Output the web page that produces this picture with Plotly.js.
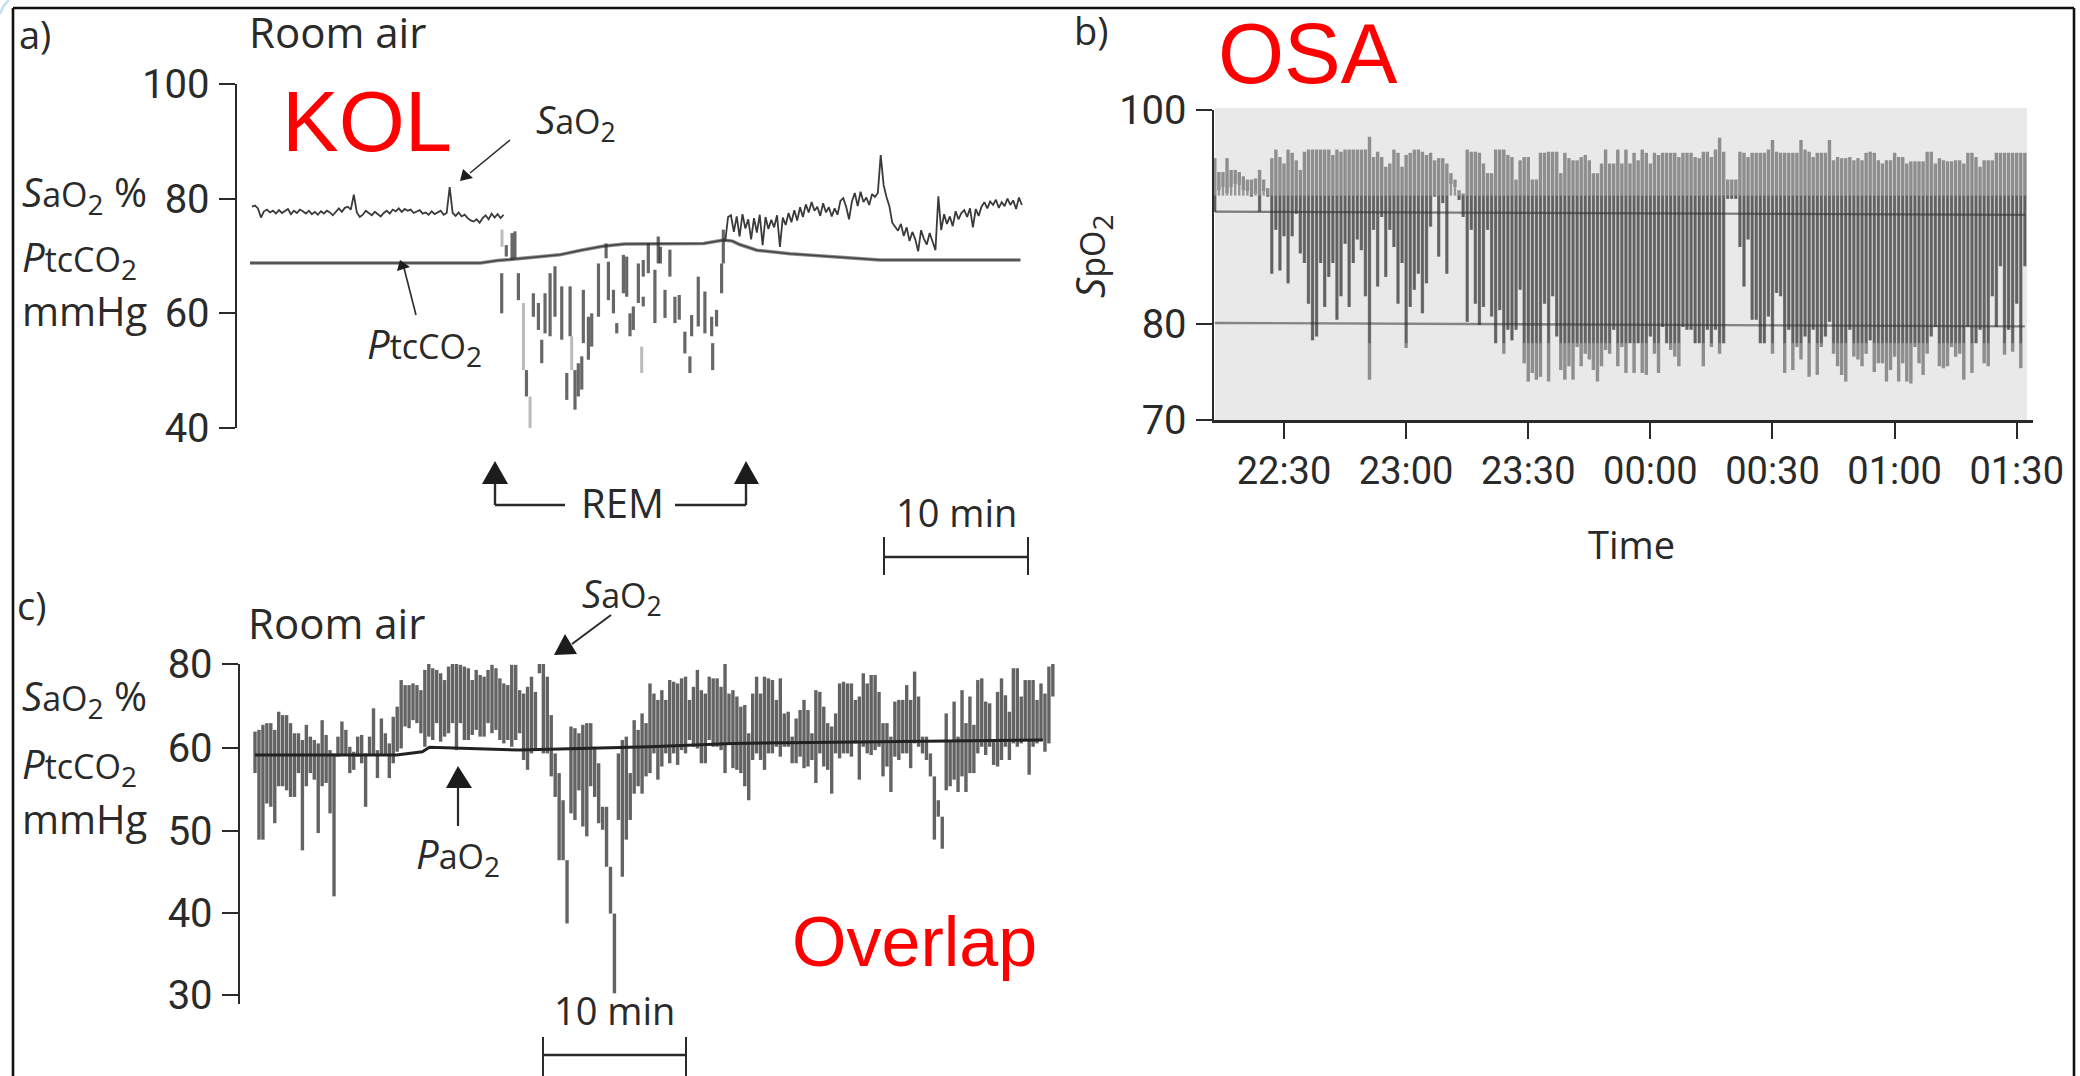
<!DOCTYPE html>
<html><head><meta charset="utf-8">
<script src="https://cdn.plot.ly/plotly-3.0.1.min.js"></script>
<style>html,body{margin:0;padding:0;background:#fff}#g{width:2080px;height:1076px}</style></head>
<body><div id="g"></div>
<script>
// ---- panel a (KOL) : minutes from start of trace, values in % / mmHg
const kolSaoBeforeStart = 0.14, kolSaoBeforeStep = 0.208;
const kolSaoBefore = [78.6,78.8,78.3,76.7,77.8,78.1,77.6,77.9,77.4,78.0,77.5,77.8,78.2,77.3,77.9,77.5,78.1,77.8,77.4,77.9,77.3,77.7,77.2,77.8,77.4,77.9,77.6,77.1,77.8,78.3,77.7,78.4,78.6,78.1,80.7,77.6,76.8,77.2,77.9,77.5,77.1,77.7,77.3,76.9,77.5,77.9,77.4,78.1,77.8,78.3,77.7,78.2,77.9,78.1,77.5,77.8,78.0,77.4,77.6,77.2,77.8,77.3,77.6,77.9,77.2,77.5,82.0,77.5,77.0,77.6,76.9,77.2,76.6,76.2,76.0,76.4,75.8,76.6,77.1,76.4,77.4,76.7,77.3,76.6,77.2];
const kolSaoAfterStart = 33, kolSaoAfterStep = 0.2;
const kolSaoAfter = [72.5,76.8,77.1,74.2,76.9,73.4,77.3,74.8,76.4,72.9,76.6,74.1,77.2,71.9,76.8,74.7,76.3,75.0,77.1,71.6,76.7,75.4,77.5,75.9,78,76.2,78.5,76.8,79,77.6,79.4,77.9,78.6,77,79.2,77.6,78.5,76.9,78.3,77.2,79.6,80.1,78.6,76.4,79.5,81,78.7,81.2,79.4,80.2,78.9,80.8,80.3,81,87.6,82.4,80.3,78.7,75.8,75.2,74.4,75.6,73.5,75,72.6,74.2,72.9,70.8,74.5,73,72,74,72.6,71,80.4,74.5,77.3,75.6,76.9,75.2,77.8,76.4,77.5,78,76.8,78.3,75,78.2,77,78.6,79.4,78.3,79.5,78.9,79.8,78.4,79.4,78.7,80,78.9,79.7,78.2,80.2,78.9];
const kolRemTime = [17.48,17.8,18.2,18.4,18.64,19.2,19.68,20.03,20.26,20.49,20.84,21.18,21.65,22.0,22.23,22.57,22.8,23.04,23.15,23.5,23.73,24.2,24.73,24.89,25.24,25.47,25.93,26.16,26.39,26.62,26.97,27.31,27.66,27.31,28.12,28.35,28.5,28.82,29.16,29.51,29.81,30.2,30.55,30.67,31.13,31.59,32.13,32.06,32.4,32.75,32.87];
const kolRemLow  = [60,69.9,69.3,69.6,62.3,45.5,59.4,57.1,51.3,56.5,56,59.4,55.4,44.9,56,43.2,45.5,46.7,54.8,51.9,54.2,59.4,69.6,62.3,60,56.5,63.5,62.9,56,57.1,61.8,66.4,67,61.2,58.3,68.7,68.7,59.2,66.4,58.3,58.9,53,49.6,56,57.7,56.5,50.1,56,57.7,63.5,68.7];
const kolRemHigh = [67,71.9,74,74.3,67,50.1,63.5,61.8,55.4,63.5,67,68.2,64.7,49.6,64.7,50.1,51.3,52.5,64.1,59.4,60,68.7,72.2,69,64.1,58.3,70.2,69.9,60,61.2,68.7,69.3,72.2,62.9,67.6,73.4,71.6,64.1,71.1,62.9,63.2,56.8,52.5,59.7,66.4,63.8,54.8,59.4,60.6,68.7,74.6];
const kolRemFaintTime = [17.5,18.99,19.45,22.34,27.2];
const kolRemFaintLow  = [71.6,50.1,38.2,50.1,49.6];
const kolRemFaintHigh = [74.6,61.8,45.5,56,54.2];
const kolPtcTime = [0,16,17.2,18,19.5,21.5,23,24.5,26,31.5,32.9,33.5,34,35.2,37.5,41,43.75,46,53.5];
const kolPtc     = [68.8,68.8,69.2,69.4,69.7,70.2,71,71.7,72.1,72.2,72.8,72.6,72,71,70.4,69.8,69.3,69.3,69.3];
const kolTicks = [40,60,80,100];

// ---- panel b (OSA) : minutes after 22:30, one dip per minute
const osaStart = -17;
const osaTop = [95.5,94.2,94.2,95.5,94.4,94.4,94.2,93.8,93.5,93.5,93.6,94.4,93.5,92.7,
95.5,96.3,95.6,95,96.3,96,95.3,94.4,96.1,96.3,96.3,96.3,96.3,96.3,96.3,95.8,96.3,96.1,96.3,96.3,96.3,96.3,96.3,96.3,97.5,95.6,96.1,95.6,94.7,95,96.3,96,94.7,95.8,96,96.3,96.3,96.1,95.8,96,95.3,95.5,95.5,95,94.1,93.5,92.5,92.2,96.3,96.1,96.1,96,
95,94.1,94.1,96.3,96.3,96.3,95.8,95.6,93.5,95.3,95.6,95.6,93.5,93.5,96,96,96.1,96.1,96.1,94.1,96,95.5,95.3,95.3,95.6,95.8,95.3,94.1,94.1,95,96.3,95,95,96.3,95,96.3,95,96,95.3,96.3,96,95,96,95.8,96,96,96,96,95.6,96,96,96,95.6,95.5,96.1,96.1,95.6,96.3,97.4,96.1,93.5,93.5,93.5,96.1,96,95.6,96,
96,96,96,96.3,97.2,96.1,96,96,96,96,96,97.2,96.3,96.1,95.6,96,96,96,97.2,95.3,95.6,95.5,95.5,95.6,95.3,95.5,95.3,96,96.1,96,95.3,95,95.3,95.3,96,95.6,95.6,95,95.2,95.2,95.2,95.2,96.1,96.1,95,95.5,95.3,95.2,95.2,95.3,95.3,95,96,96,95.6,94.7,95.3,95.3,95.3,96,96,96,96,96,96,96,96];
const osaLow = [90.5,92.5,92.8,92.2,92.8,93.1,93,92.5,92.4,91.9,92.2,90.5,92.4,91.9,
84.7,88.8,85,88.2,83.8,88.2,90.3,86.6,85.7,81.9,78.3,78.7,85.7,81.6,84.4,85.7,80.4,82.6,87.5,81.6,85.7,87.9,86.9,82.6,74.2,88.8,83.5,90,84.4,88.8,87.2,81.9,85.7,77.5,81.6,83.2,84.7,81,83.8,89.1,91.9,86.3,91.3,84.7,93.1,92.8,91.6,90,80.2,88.8,81.9,79.9,
81.6,88.8,80.7,78,81.3,76.9,79.4,78.3,79.4,83.2,75.9,74,74.9,74.2,74.5,81.9,74,82.6,78.7,75.2,74.2,75.6,74.2,77.6,75.6,76.9,76.3,75.2,74,75.6,77.3,76.9,79.4,75.6,77.6,74.9,78,74.9,78,74.9,74.7,78.7,76.9,74.9,79.7,78,77.3,76.6,75.6,79.7,79.4,79.4,78,78,75.6,79.4,77.6,79.4,76.9,78,91.7,91.7,91.7,87.2,83.5,87.9,80.4,
80.4,78,78,80.7,76.9,82.9,82.6,74.9,79.4,75.2,77.6,76.3,78.7,74.5,79.4,74.7,77.6,78.7,80.2,76.9,75.6,74.7,74,79.4,76.6,76.3,75.6,76.9,78.3,75,75.9,75.9,74,75.2,76.6,74,75.9,74,73.8,77.6,75.9,74.7,76.9,78.7,79.7,75.6,75.4,75.6,77.6,76.6,76.9,74.2,79.7,74.9,78,79.4,75.9,75.6,82.6,79.7,85.4,76.8,79.4,77.1,81.9,75.4,85.4];
const osaRefTime = [-17,182];
const osaRefUpper = [90.5,90.2];
const osaRefLower = [80.1,79.75];
const osaTicks = [70,80,100];
const osaTimeTicks = [0,30,60,90,120,150,180];
const osaTimeLabels = ['22:30','23:00','23:30','00:00','00:30','01:00','01:30'];

// ---- panel c (Overlap) : minutes from start of trace
const ovlSpan = 55.8;
const ovlHigh = [64,64.4,65.6,66,66,64.4,68.7,67.9,67.9,66,63.6,63.6,62,65.6,62.8,62,61.2,66.7,63.2,59.8,59.4,62.8,66.4,64.4,60.4,59.6,62.8,63.2,59.4,62.8,69.5,59.8,67.1,63.6,61.2,67.5,69.9,76.2,75,75,75.4,75,73.8,78.6,80.9,79,78.6,77.8,76.2,79.4,80.5,80.9,79.8,79.4,79,76.2,78.6,77.4,77,78.6,79.8,79,76.6,75.4,75,79.8,79.8,73.8,73,74.6,77,73.4,82.1,80.2,77,67.9,59.4,57,53.7,46.4,65.2,64.8,63.6,65.6,66,66,60.4,58.2,52.9,52.9,45.6,39.9,59.4,62,62.8,57,66.7,64.4,68.3,66,75.4,73,
71.5,73.8,71.5,76.2,75.8,75.4,76.6,77,71.5,74.6,78.6,73.8,73,77,76.6,76.6,74.6,80.5,73,73.8,72.3,69.9,70.3,63.6,73,77,73,77,76.6,76.2,71.5,76.6,68.3,68.7,62.8,67.1,69.1,71.5,69.1,63.6,73.8,73.4,69.9,66,65.2,68.3,75.4,75.8,75.4,75.4,71.5,72.3,77.8,75.4,77.4,77.4,73.4,66,66,62.8,71.1,71.5,71.5,75,71.5,78.2,72.3,62.8,62.8,59.4,56.6,53.7,51.7,68.3,62,71.1,62.8,73.8,66,72.3,65.6,76.2,76.6,71.1,70.7,62,73.4,76.6,72.6,68.7,79,79,72.3,76.2,76.2,76.2,71.5,75.4,73,79.4,80.2];
const ovlLow = [57,48.9,48.9,53.3,52.9,50.9,55.4,55.4,54.9,54.1,54.1,57,47.6,55.4,57,56.2,49.7,55.4,55.8,52.1,42,59,59.2,59.2,57,57.4,59,58.2,52.9,59.2,59.2,56.4,59.2,59.2,56.4,58.2,59.6,60,65.2,64.8,66.7,66,63.6,60.4,62.8,62,66,61.6,62.8,63.6,66,59.8,66,62,62,63.2,64.4,62.8,62.8,66,63.6,64.4,62,61.2,62,60.4,62,63.6,58.6,57.4,59.4,59.8,77.8,59.4,59.4,56.6,54.1,46.4,46.4,38.7,52.1,51.3,54.9,50.5,49.3,55.4,54.1,50.9,50.1,45.6,39.9,30.2,51.3,44.4,48.9,51.3,54.5,55.4,54.5,56.6,57,59.4,
56.2,57.8,59.4,58.2,59.4,58,59.8,59.4,62,60.4,60,58.2,58.2,62,60.4,60.4,59.8,57,61.2,57.6,57.4,57,55.4,53.7,58.6,59.4,58.6,57.4,59.4,59.4,60.4,59,60.4,60.4,58.2,58.2,59,57.6,57.8,58.6,55.8,59.4,57.8,57.4,54.5,59.4,58.8,59.4,59.4,59,61.2,56.2,60.4,59.4,59.2,59.8,60.4,56.6,57.8,54.7,59,58.6,59.4,59.4,57.6,61.2,60.4,59.4,58.6,56.6,48.9,51.7,47.8,54.9,55.4,56.2,54.7,56.6,54.7,57,57,59.4,60.4,59.2,60.4,58,57.8,58.6,60.4,58.6,61.2,60.4,61.2,62,56.8,60.4,61.2,62,59.6,61.2,72.3];
const ovlPaoTime = [0,9.9,11.7,12.2,18.5,27.6,33.4,43.9,55.1];
const ovlPao     = [59.2,59.2,59.6,60.3,59.8,60.4,61.2,61.6,62];
const ovlTicks = [30,40,50,60,80];

// the source figure's value scales are uneven; these reproduce its axis spacing
const mapOsa = v => v <= 80 ? 70 + (v - 70) * 0.929 : 79.29 + (v - 80) * 1.0355;
const mapOvl = v => v <= 60 ? v : 60 + (v - 60) * 0.514;

function bars(t, lo, hi, map) {
  const x = [], y = [], n = Math.min(t.length, lo.length, hi.length), m = map || (v => v);
  for (let i = 0; i < n; i++) { x.push(t[i], t[i], null); y.push(m(lo[i]), m(hi[i]), null); }
  return {x, y};
}
const series = (start, step, n) => Array.from({length: n}, (_, i) => start + i * step);
const W = 2080, H = 1076, px = x => x / W, py = y => 1 - y / H;
const ink = '#2a2a2a';

const line = (x, y, xa, ya, color, width, extra) => Object.assign({type: 'scatter', mode: 'lines', x, y, xaxis: xa, yaxis: ya, cliponaxis: false, hoverinfo: 'skip', showlegend: false, connectgaps: false, line: {color, width}}, extra || {});

const traces = [];
// a
traces.push(line(kolPtcTime, kolPtc, 'x', 'y', '#8a8a8a', 3.5));
traces.push(line(kolPtcTime, kolPtc, 'x', 'y', '#444', 1.5));
traces.push(line(series(kolSaoBeforeStart, kolSaoBeforeStep, kolSaoBefore.length), kolSaoBefore, 'x', 'y', '#3a3a3a', 1.8));
traces.push(line(series(kolSaoAfterStart, kolSaoAfterStep, kolSaoAfter.length), kolSaoAfter, 'x', 'y', '#3a3a3a', 1.8));
let b = bars(kolRemFaintTime, kolRemFaintLow, kolRemFaintHigh);
traces.push(line(b.x, b.y, 'x', 'y', 'rgba(120,120,120,0.5)', 3));
b = bars(kolRemTime, kolRemLow, kolRemHigh);
traces.push(line(b.x, b.y, 'x', 'y', 'rgba(45,45,45,0.72)', 3.2));
// b
const osaTime = series(osaStart, 1, osaTop.length);
b = bars(osaTime, osaLow, osaTop, mapOsa);
traces.push(line(b.x, b.y, 'x2', 'y2', 'rgba(85,85,85,0.62)', 3.4));
b = bars(osaTime, osaLow.map(v => Math.max(v, 78)), osaTop.map(v => Math.min(v, 92)), mapOsa);
traces.push(line(b.x, b.y, 'x2', 'y2', 'rgba(35,35,35,0.42)', 2.4));
traces.push(line(osaRefTime, osaRefUpper.map(mapOsa), 'x2', 'y2', 'rgba(50,50,50,0.6)', 2.2));
traces.push(line(osaRefTime, osaRefLower.map(mapOsa), 'x2', 'y2', 'rgba(50,50,50,0.55)', 2.4));
// c
const ovlTime = series(0, ovlSpan / (Math.min(ovlHigh.length, ovlLow.length) - 1), Math.min(ovlHigh.length, ovlLow.length));
b = bars(ovlTime, ovlLow, ovlHigh, mapOvl);
traces.push(line(b.x, b.y, 'x3', 'y3', 'rgba(45,45,45,0.74)', 3.4));
traces.push(line(ovlPaoTime, ovlPao.map(mapOvl), 'x3', 'y3', '#222', 3));

const yBase = {ticks: 'outside', ticklen: 16, tickwidth: 2, tickcolor: ink, showline: true, linewidth: 2.4, linecolor: ink, showgrid: false, zeroline: false, tickfont: {family: 'Roboto', size: 40, color: ink}, ticklabelstandoff: 1};
const hidden = {visible: false, showgrid: false, zeroline: false};

const txtFont = 'Open Sans';
const note = (text, x, y, size, o) => Object.assign({text, xref: 'paper', yref: 'paper', x: px(x), y: py(y), showarrow: false, xanchor: 'left', yanchor: 'middle', align: 'left', font: {family: txtFont, size, color: ink}}, o || {});
const sub = (sym, mid, sz) => `<i>${sym}</i><span style="font-size:${sz}px">${mid}</span><sub>2</sub>`;
const red = (text, x, y, size) => note(text, x, y, size, {font: {family: 'Liberation Sans', size, color: '#ff0000'}});

const annotations = [
  note('a)', 17, 34, 38),
  note('Room air', 247, 32, 42),
  note(sub('S', 'aO', 34) + ' %', 20, 194, 40),
  note(sub('P', 'tcCO', 34), 20, 258, 40),
  note('mmHg', 20, 310, 40),
  note(sub('S', 'aO', 34), 534, 122, 38),
  note(sub('P', 'tcCO', 34), 365, 345, 40),
  note('REM', 622, 502, 40, {xanchor: 'center'}),
  note('10 min', 956, 512, 38, {xanchor: 'center'}),
  red('KOL', 280, 122, 85),
  note('b)', 1072, 30, 38),
  red('OSA', 1216, 54, 85),
  note(sub('S', 'pO', 34), 1092, 257, 40, {xanchor: 'center', textangle: -90}),
  note('Time', 1631, 544, 38, {xanchor: 'center'}),
  note('c)', 15, 605, 38),
  note('Room air', 246, 622, 42),
  note(sub('S', 'aO', 34), 580, 595, 38),
  note(sub('S', 'aO', 34) + ' %', 20, 697, 40),
  note(sub('P', 'tcCO', 34), 20, 765, 40),
  note('mmHg', 20, 818, 40),
  note(sub('P', 'aO', 34), 414, 855, 40),
  note('10 min', 614, 1010, 38, {xanchor: 'center'}),
  red('Overlap', 790, 942, 70)
];

const seg = (x0, y0, x1, y1, width, color) => ({type: 'line', xref: 'paper', yref: 'paper', x0: px(x0), y0: py(y0), x1: px(x1), y1: py(y1), line: {color: color || ink, width: width || 2}});
const tri = (a, b, c) => ({type: 'path', xref: 'paper', yref: 'paper', path: `M ${px(a[0])} ${py(a[1])} L ${px(b[0])} ${py(b[1])} L ${px(c[0])} ${py(c[1])} Z`, fillcolor: '#1c1c1c', line: {width: 0}});
const shapes = [
  {type: 'rect', xref: 'paper', yref: 'paper', x0: px(1215), x1: px(2027), y0: py(420), y1: py(108), fillcolor: '#e9e9e9', line: {width: 0}, layer: 'below'},
  // frame
  seg(13, 8, 2074, 8, 2.6, '#111'), seg(13, 8, 13, 1076, 2.6, '#111'), seg(2074, 8, 2074, 1076, 2.6, '#111'),
  {type: 'path', xref: 'paper', yref: 'paper', path: `M ${px(0)} ${py(14)} Q ${px(3)} ${py(5)} ${px(9)} ${py(0)}`, line: {color: '#bfe0f2', width: 2.5}},
  // REM bracket
  seg(495, 483, 495, 505, 2.4), seg(495, 505, 565, 505, 2.4), seg(675, 505, 746, 505, 2.4), seg(746, 505, 746, 483, 2.4),
  tri([495, 461], [482, 484], [508, 484]), tri([746, 461], [734, 484], [759, 484]),
  // scale bars
  seg(884, 537, 884, 575), seg(1028, 537, 1028, 575), seg(884, 557, 1028, 557, 2.6),
  seg(543, 1037, 543, 1076), seg(686, 1037, 686, 1076), seg(543, 1055, 686, 1055, 2.6),
  // pointers
  seg(510, 140, 470, 173, 1.6), tri([460, 181], [463, 169], [473, 178]),
  seg(416, 315, 404, 268, 1.6), tri([400, 260], [397, 271], [410, 267]),
  seg(611, 615, 572, 644, 2), tri([554, 655], [577, 654], [565, 634]),
  seg(458, 826, 458, 787, 2.2), tri([458, 766], [446, 788], [472, 788])
];

const layout = {
  width: W, height: H, margin: {l: 0, r: 0, t: 0, b: 0}, paper_bgcolor: '#fff', plot_bgcolor: 'rgba(0,0,0,0)',
  showlegend: false, annotations, shapes,
  xaxis: Object.assign({}, hidden, {domain: [px(237), px(1040)], range: [-0.9, 54.86], anchor: 'y'}),
  yaxis: Object.assign({}, yBase, {domain: [py(428), py(84)], range: [40, 100], tickvals: kolTicks, ticktext: kolTicks.map(String), anchor: 'x'}),
  xaxis2: {domain: [px(1214), px(2033)], range: [-17.2, 184], anchor: 'y2', tickvals: osaTimeTicks, ticktext: osaTimeLabels, ticks: 'outside', ticklen: 16, tickwidth: 2, tickcolor: ink, showline: true, linewidth: 2.6, linecolor: ink, showgrid: false, zeroline: false, tickfont: {family: 'Roboto', size: 38, color: ink}, tickangle: 0},
  yaxis2: Object.assign({}, yBase, {domain: [py(420), py(110)], range: [70, 100], tickvals: osaTicks.map(mapOsa), ticktext: osaTicks.map(String), anchor: 'x2'}),
  xaxis3: Object.assign({}, hidden, {domain: [px(240), px(1060)], range: [-1.05, 56.3], anchor: 'y3'}),
  yaxis3: Object.assign({}, yBase, {domain: [py(1004), py(664)], range: [28.9, 70.28], tickvals: ovlTicks.map(mapOvl), ticktext: ovlTicks.map(String), anchor: 'x3'})
};
Plotly.newPlot('g', traces, layout, {displayModeBar: false, staticPlot: true});
</script></body></html>
